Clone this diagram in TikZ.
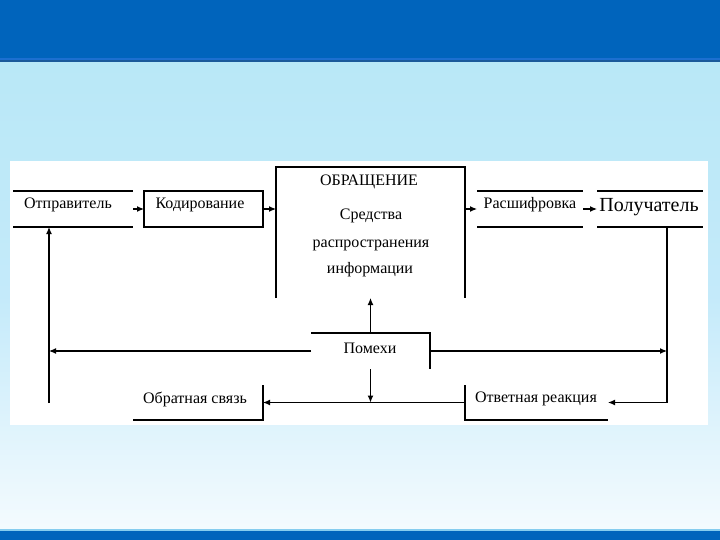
\documentclass[tikz,border=0pt]{standalone}
\usepackage{fontspec}
\setmainfont{Liberation Serif}
\usetikzlibrary{arrows.meta,calc}
\definecolor{barblue}{HTML}{0064BC}
\definecolor{stripeA}{HTML}{1C6FD0}
\definecolor{stripeB}{HTML}{1B5A9A}
\definecolor{skyA}{HTML}{B9E8F7}
\definecolor{skyB}{HTML}{C4EAFA}
\definecolor{skyC}{HTML}{F4FBFE}
\definecolor{bstripe}{HTML}{86CDEF}
\tikzset{
  lbl/.style={inner sep=0pt, outer sep=0pt, font=\fontsize{16}{19}\selectfont},
  frame/.style={inner sep=0pt, outer sep=0pt},
  ln/.style={line width=1.2pt, black},
  arr/.style={line width=1.2pt, black, -{Latex[length=7pt,width=6pt]}},
}
\begin{document}
\begin{tikzpicture}[x=1pt,y=-1pt]
\useasboundingbox (0,0) rectangle (720,540);
% background
\shade[top color=skyA, bottom color=skyC, middle color=skyB] (0,62) rectangle (720,530);
\fill[barblue] (0,0) rectangle (720,58);
\fill[stripeA] (0,58) rectangle (720,60);
\fill[stripeB] (0,60) rectangle (720,62);
\fill[bstripe] (0,529) rectangle (720,531);
\fill[barblue] (0,531) rectangle (720,540);
% white panel
\fill[white] (10,161) rectangle (708,425);

% frames
\node[frame, minimum width=120pt, minimum height=36pt] (otp) at (73,209) {};
\node[lbl] (otpt) at (68,205) {Отправитель};
\node[frame, minimum width=119pt, minimum height=36pt] (kod) at (203.5,209) {};
\node[lbl] (kodt) at (200,205) {Кодирование};
\node[frame, minimum width=189pt, minimum height=131pt] (obr) at (370.5,232.5) {};
\node[lbl] (obr1) at (369,182) {ОБРАЩЕНИЕ};
\node[lbl] (obr2) at (371,216) {Средства};
\node[lbl] (obr3) at (371,245) {распространения};
\node[lbl] (obr4) at (370,270) {информации};
\node[frame, minimum width=106pt, minimum height=36pt] (ras) at (530,209) {};
\node[lbl] (rast) at (530,205) {Расшифровка};
\node[frame, minimum width=106pt, minimum height=36pt] (pol) at (650,209) {};
\node[lbl, font=\fontsize{20}{24}\selectfont] (polt) at (649,207) {Получатель};
\node[frame, minimum width=119pt, minimum height=36pt] (pom) at (370.5,351) {};
\node[lbl] (pomt) at (370,348) {Помехи};
\node[frame, minimum width=130pt, minimum height=35pt] (obs) at (198,402.5) {};
\node[lbl] (obst) at (195,399) {Обратная связь};
\node[frame, minimum width=143pt, minimum height=35pt] (otv) at (536.5,402.5) {};
\node[lbl] (otvt) at (536,399) {Ответная реакция};

% frame lines
\draw[ln] (otp.north west) -- (otp.north east);
\draw[ln] (otp.south west) -- (otp.south east);
\draw[ln] (kod.north west) rectangle (kod.south east);
\draw[ln] (obr.south west) -- (obr.north west) -- (obr.north east) -- (obr.south east);
\draw[ln] (ras.north west) -- (ras.north east);
\draw[ln] (ras.south west) -- (ras.south east);
\draw[ln] (pol.north west) -- (pol.north east);
\draw[ln] (pol.south west) -- (pol.south east);
\draw[ln] (pom.north west) -- (pom.north east) -- (pom.south east);
\draw[ln] (obs.south west) -- (obs.south east) -- (obs.north east);
\draw[ln] (otv.north west) -- (otv.south west) -- (otv.south east);

% connectors
\coordinate (pdown) at ($(pol.south)+(17,0)$);
\coordinate (fb) at (49,403);
\draw[arr] (otp.east) -- (kod.west);
\draw[arr] (kod.east) -- (kod.east -| obr.west);
\draw[arr] (ras.west -| obr.east) -- (ras.west);
\draw[arr] (ras.east) -- (pol.west);
\draw[ln] (pdown) -- (pdown |- otv.east);
\draw[arr] (pdown |- otv.east) -- (otv.east);
\draw[arr] (otv.west) -- (obs.east);
\draw[arr] (fb) -- (fb |- otp.south);
\draw[arr] (pom.west) -- (pom.west -| fb);
\draw[arr] (pom.east) -- (pom.east -| pdown);
\draw[arr] (pom.north) -- (pom.north |- obr.south);
\draw[arr] (pom.south) -- (pom.south |- otv.west);
\end{tikzpicture}
\end{document}
